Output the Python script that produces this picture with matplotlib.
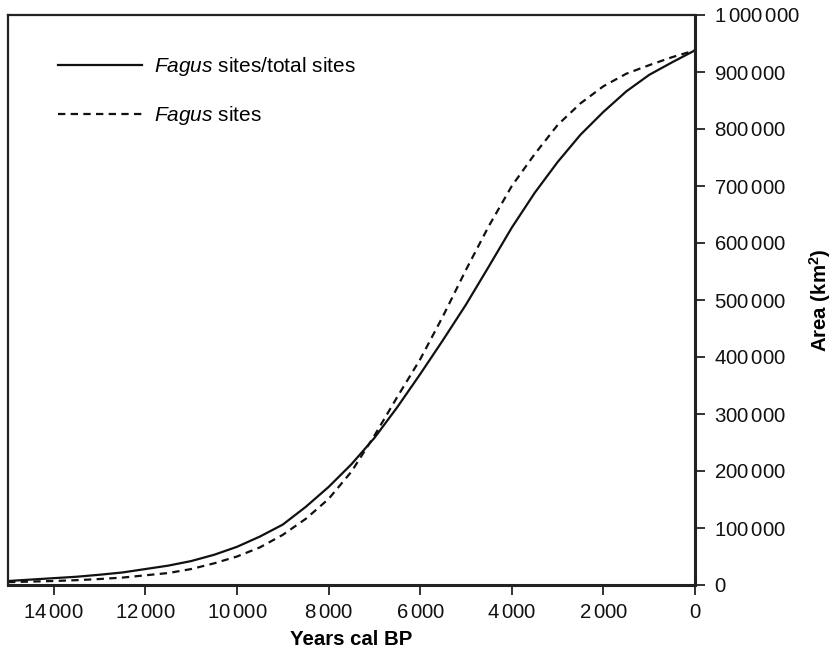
import matplotlib
matplotlib.use("Agg")
import matplotlib.pyplot as plt
from matplotlib.ticker import FuncFormatter

plt.rcParams['font.family'] = ['Liberation Sans', 'DejaVu Sans']
plt.rcParams['mathtext.fontset'] = 'custom'
plt.rcParams['mathtext.rm'] = 'Liberation Sans'
plt.rcParams['mathtext.it'] = 'Liberation Sans:italic'
plt.rcParams['mathtext.bf'] = 'Liberation Sans:bold'

years = [15000, 14500, 14000, 13500, 13000, 12500, 12000, 11500, 11000, 10500,
         10000, 9500, 9000, 8500, 8000, 7500, 7000, 6500, 6000, 5500,
         5000, 4500, 4000, 3500, 3000, 2500, 2000, 1500, 1000, 500, 0]
ratio_area = [7000, 9500, 12000, 14500, 18000, 22000, 28000, 34000, 42000, 53000,
              67000, 85000, 106000, 137000, 172000, 212000, 258000, 312000, 370000, 430000,
              492000, 559000, 627000, 688000, 742000, 790000, 830000, 866000, 895000, 917000, 938000]
sites_area = [5000, 6000, 7000, 8500, 10500, 13000, 17000, 21000, 28000, 38000,
              50000, 66000, 88000, 116000, 151000, 199000, 262000, 330000, 396000, 472000,
              553000, 630000, 700000, 756000, 807000, 845000, 875000, 897000, 912000, 926000, 938000]

label_ratio = "$\\it{Fagus}$ sites/total sites"
label_sites = "$\\it{Fagus}$ sites"

fig = plt.figure(figsize=(8.32, 6.55), dpi=100)
ax = fig.add_axes([8/832, 1-585/655, (695-8)/832, (585-15)/655])

ax.plot(years, ratio_area, color='#111111', lw=1.6, ls='-')
ax.plot(years, sites_area, color='#111111', lw=1.6, ls=(0, (3.3, 2.4)))

ax.set_xlim(15000, 0)
ax.set_ylim(0, 1000000)
ax.set_xticks(range(14000, -1, -2000))
ax.set_yticks(range(0, 1000001, 100000))

def fmt(v, pos):
    s = f"{int(v):,}"
    if "," not in s:
        return s
    return "$" + s.replace(",", "\\,") + "$"

ax.xaxis.set_major_formatter(FuncFormatter(fmt))
ax.yaxis.set_major_formatter(FuncFormatter(fmt))
ax.yaxis.tick_right()
ax.yaxis.set_label_position('right')
ax.tick_params(axis='both', direction='out', length=7, width=1.2, labelsize=14.7, colors='#111111')
ax.tick_params(axis='y', pad=7)
ax.tick_params(axis='x', pad=6)
for s in ax.spines.values():
    s.set_linewidth(1.6)
    s.set_color('#222222')
ax.spines['right'].set_linewidth(2.2)
ax.spines['bottom'].set_linewidth(2.2)

ax.set_xlabel("Years cal BP", fontsize=14.7, fontweight='bold', labelpad=6)
ax.set_ylabel("Area (km$^\\mathbf{2}$)", fontsize=14.7, fontweight='bold', labelpad=5)

h = ax.get_lines()
ax.legend(h, [label_ratio, label_sites], loc='upper left', bbox_to_anchor=(0.046, 0.962),
          frameon=False, fontsize=15, handlelength=4.0, handletextpad=0.6, labelspacing=1.25)

fig.savefig("out.png", dpi=100)
